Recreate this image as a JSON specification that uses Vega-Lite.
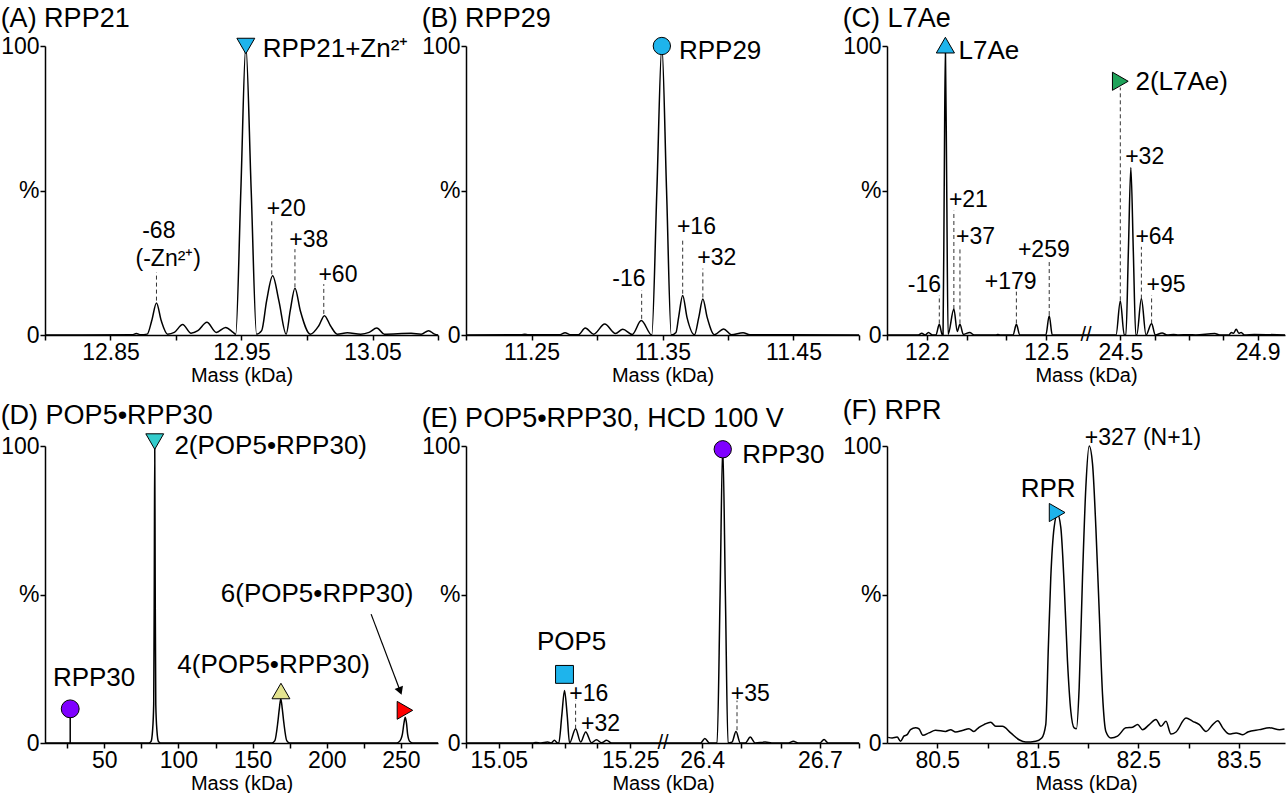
{
  "$schema": "https://vega.github.io/schema/vega-lite/v6.json",
  "padding": {"top": 5, "left": 0, "right": 0, "bottom": 0},
  "columns": 3,
  "spacing": {"row": 111, "column": 28},
  "bounds": "flush",
  "align": "each",
  "config": {
    "font": "Liberation Sans",
    "view": {"stroke": null},
    "axis": {"domainColor": "black", "domainWidth": 1.5, "tickColor": "black", "tickWidth": 1.5, "tickSize": 5, "labelFontSize": 23, "labelColor": "black", "labelPadding": 1, "grid": false, "titleFontSize": 20, "titleFontWeight": "normal", "titleColor": "black", "titlePadding": 1, "labelFont": "Liberation Sans", "titleFont": "Liberation Sans", "labelOverlap": false, "labelBound": false, "labelFlush": false},
    "title": {"anchor": "start", "frame": "bounds", "fontSize": 27, "fontWeight": "normal", "font": "Liberation Sans", "color": "black", "offset": 2},
    "text": {"font": "Liberation Sans", "color": "black"}
  },
  "datasets": {
    "A_trace": [
      {"mass": 12.8, "intensity": 0}, {"mass": 12.8667, "intensity": 0.1}, {"mass": 12.8697, "intensity": 0.5}, {"mass": 12.873, "intensity": 0.1}, {"mass": 12.878, "intensity": 0.3}, {"mass": 12.8815, "intensity": 5.0}, {"mass": 12.8851, "intensity": 11.1}, {"mass": 12.8887, "intensity": 5.0}, {"mass": 12.8936, "intensity": 0.3}, {"mass": 12.8987, "intensity": 0.9}, {"mass": 12.9051, "intensity": 3.6}, {"mass": 12.9115, "intensity": 0.6}, {"mass": 12.9167, "intensity": 1.5}, {"mass": 12.9236, "intensity": 4.4}, {"mass": 12.9308, "intensity": 0.9}, {"mass": 12.9379, "intensity": 2.6}, {"mass": 12.9436, "intensity": 0.9}, {"mass": 12.9456, "intensity": 0.3}, {"mass": 12.9495, "intensity": 50}, {"mass": 12.9533, "intensity": 100}, {"mass": 12.9574, "intensity": 50}, {"mass": 12.9615, "intensity": 0.3}, {"mass": 12.9654, "intensity": 1.5}, {"mass": 12.9692, "intensity": 11.9}, {"mass": 12.9738, "intensity": 20.5}, {"mass": 12.9785, "intensity": 11.9}, {"mass": 12.9841, "intensity": 0.3}, {"mass": 12.9872, "intensity": 8.4}, {"mass": 12.9908, "intensity": 16.2}, {"mass": 12.9949, "intensity": 8.4}, {"mass": 13.0026, "intensity": 0.3}, {"mass": 13.009, "intensity": 3.2}, {"mass": 13.0133, "intensity": 6.7}, {"mass": 13.0179, "intensity": 3.2}, {"mass": 13.0231, "intensity": 0.3}, {"mass": 13.0308, "intensity": 0.8}, {"mass": 13.041, "intensity": 0.3}, {"mass": 13.0474, "intensity": 0.9}, {"mass": 13.0533, "intensity": 2.4}, {"mass": 13.059, "intensity": 0.3}, {"mass": 13.0795, "intensity": 0.6}, {"mass": 13.0872, "intensity": 0.3}, {"mass": 13.0928, "intensity": 1.5}, {"mass": 13.0974, "intensity": 0.3}, {"mass": 13.1, "intensity": 0}
    ],
    "A_dash": [
      {"mass": 12.8851, "intensity": 11.9, "top": 21.7}, {"mass": 12.9731, "intensity": 21, "top": 40}, {"mass": 12.9908, "intensity": 16.5, "top": 29.7}, {"mass": 13.0128, "intensity": 7.3, "top": 17.6}
    ],
    "A_delta": [
      {"label": "-68", "mass": 12.8869, "intensity": 36.0}, {"label": "(-Zn²⁺)", "mass": 12.8941, "intensity": 26.3}, {"label": "+20", "mass": 12.9841, "intensity": 43.5}, {"label": "+38", "mass": 13.0013, "intensity": 32.8}, {"label": "+60", "mass": 13.0236, "intensity": 20.7}
    ],
    "A_name": [{"label": "RPP21+Zn²⁺", "mass": 13.0218, "intensity": 98.8}],
    "A_marker": [{"species": "RPP21+Zn²⁺", "mass": 12.9533, "intensity": 100}],
    "B_trace": [
      {"mass": 11.2, "intensity": 0}, {"mass": 11.2423, "intensity": 0.1}, {"mass": 11.2449, "intensity": 0.3}, {"mass": 11.2474, "intensity": 0.1}, {"mass": 11.2718, "intensity": 0.1}, {"mass": 11.2756, "intensity": 0.8}, {"mass": 11.2795, "intensity": 0.1}, {"mass": 11.2859, "intensity": 0.1}, {"mass": 11.291, "intensity": 2.4}, {"mass": 11.2974, "intensity": 0.3}, {"mass": 11.3059, "intensity": 3.8}, {"mass": 11.3141, "intensity": 0.5}, {"mass": 11.3197, "intensity": 2.0}, {"mass": 11.3269, "intensity": 0.2}, {"mass": 11.3338, "intensity": 5.0}, {"mass": 11.3418, "intensity": 0}, {"mass": 11.3457, "intensity": 50}, {"mass": 11.3495, "intensity": 100}, {"mass": 11.3531, "intensity": 50}, {"mass": 11.3567, "intensity": 0}, {"mass": 11.3603, "intensity": 0.9}, {"mass": 11.3623, "intensity": 6.1}, {"mass": 11.3654, "intensity": 13.7}, {"mass": 11.3687, "intensity": 6.1}, {"mass": 11.3744, "intensity": 0.1}, {"mass": 11.3777, "intensity": 6.1}, {"mass": 11.3808, "intensity": 12.5}, {"mass": 11.3841, "intensity": 6.1}, {"mass": 11.3897, "intensity": 0.1}, {"mass": 11.3967, "intensity": 2.1}, {"mass": 11.4026, "intensity": 0.1}, {"mass": 11.4115, "intensity": 0.8}, {"mass": 11.4167, "intensity": 0.1}, {"mass": 11.5, "intensity": 0}
    ],
    "B_dash": [
      {"mass": 11.3341, "intensity": 5.6, "top": 15.4}, {"mass": 11.3654, "intensity": 14.3, "top": 33.4}, {"mass": 11.3808, "intensity": 13, "top": 23}
    ],
    "B_delta": [
      {"label": "-16", "mass": 11.3244, "intensity": 19.5}, {"label": "+16", "mass": 11.3759, "intensity": 37.4}, {"label": "+32", "mass": 11.3915, "intensity": 26.8}
    ],
    "B_name": [{"label": "RPP29", "mass": 11.394, "intensity": 98.3}],
    "B_marker": [{"species": "RPP29", "mass": 11.3495, "intensity": 100}],
    "C_trace": [
      {"mass": 12.1, "intensity": 0}, {"mass": 12.1788, "intensity": 0}, {"mass": 12.1873, "intensity": 0.6}, {"mass": 12.1958, "intensity": 0}, {"mass": 12.2042, "intensity": 0.9}, {"mass": 12.2144, "intensity": 0}, {"mass": 12.2229, "intensity": 0}, {"mass": 12.2314, "intensity": 3.7}, {"mass": 12.239, "intensity": 0}, {"mass": 12.2408, "intensity": 0}, {"mass": 12.2437, "intensity": 50}, {"mass": 12.2467, "intensity": 100}, {"mass": 12.2501, "intensity": 50}, {"mass": 12.2535, "intensity": 0.2}, {"mass": 12.268, "intensity": 9.0}, {"mass": 12.2765, "intensity": 1.2}, {"mass": 12.2833, "intensity": 3.7}, {"mass": 12.2918, "intensity": 0.2}, {"mass": 12.3079, "intensity": 0.9}, {"mass": 12.319, "intensity": 0}, {"mass": 12.3742, "intensity": 0}, {"mass": 12.3784, "intensity": 0.2}, {"mass": 12.3844, "intensity": 0}, {"mass": 12.4167, "intensity": 0}, {"mass": 12.4251, "intensity": 3.7}, {"mass": 12.4336, "intensity": 0}, {"mass": 12.4991, "intensity": 0}, {"mass": 12.5076, "intensity": 6.7}, {"mass": 12.5152, "intensity": 0}, {"mass": 12.6, "intensity": 0},
      {"mass": 24.4, "intensity": 0}, {"mass": 24.4875, "intensity": 0}, {"mass": 24.5, "intensity": 11.8}, {"mass": 24.5115, "intensity": 0}, {"mass": 24.5163, "intensity": 0}, {"mass": 24.5235, "intensity": 29}, {"mass": 24.5307, "intensity": 58}, {"mass": 24.5379, "intensity": 29}, {"mass": 24.5451, "intensity": 0}, {"mass": 24.548, "intensity": 0}, {"mass": 24.5614, "intensity": 12.6}, {"mass": 24.5749, "intensity": 0}, {"mass": 24.5912, "intensity": 4.0}, {"mass": 24.6017, "intensity": 0}, {"mass": 24.6219, "intensity": 0.7}, {"mass": 24.6363, "intensity": 0}, {"mass": 24.6555, "intensity": 0.2}, {"mass": 24.67, "intensity": 0}, {"mass": 24.6987, "intensity": 0.1}, {"mass": 24.72, "intensity": 0}, {"mass": 24.7754, "intensity": 0.5}, {"mass": 24.7898, "intensity": 0}, {"mass": 24.8167, "intensity": 0}, {"mass": 24.8234, "intensity": 0.9}, {"mass": 24.8301, "intensity": 0.6}, {"mass": 24.8378, "intensity": 2.0}, {"mass": 24.8455, "intensity": 0.6}, {"mass": 24.8522, "intensity": 0.9}, {"mass": 24.8618, "intensity": 0}, {"mass": 24.8906, "intensity": 0.2}, {"mass": 24.98, "intensity": 0}
    ],
    "C_dash": [
      {"mass": 12.2314, "intensity": 4, "top": 13.8}, {"mass": 12.268, "intensity": 9, "top": 43}, {"mass": 12.2833, "intensity": 4, "top": 30.5}, {"mass": 12.4251, "intensity": 4, "top": 15}, {"mass": 12.5076, "intensity": 6.9, "top": 25.9}, {"mass": 24.5, "intensity": 12, "top": 85.6}, {"mass": 24.5614, "intensity": 12.6, "top": 30.5}, {"mass": 24.5912, "intensity": 4, "top": 13.8}
    ],
    "C_delta": [
      {"label": "-16", "mass": 12.194, "intensity": 17.2}, {"label": "+21", "mass": 12.3045, "intensity": 46.6}, {"label": "+37", "mass": 12.3223, "intensity": 33.9}, {"label": "+179", "mass": 12.4107, "intensity": 18.4}, {"label": "+259", "mass": 12.494, "intensity": 29.3}, {"label": "+32", "mass": 24.571, "intensity": 61.5}, {"label": "+64", "mass": 24.6008, "intensity": 33.9}, {"label": "+95", "mass": 24.6334, "intensity": 17.2}
    ],
    "C_name": [{"label": "L7Ae", "mass": 12.356, "intensity": 98.3}, {"label": "2(L7Ae)", "mass": 24.679, "intensity": 87.4}],
    "C_marker": [{"species": "L7Ae", "mass": 12.2467, "intensity": 100.3}, {"species": "2(L7Ae)", "mass": 24.5, "intensity": 87.8}],
    "C_break": [{"label": "//", "mass": 12.6, "intensity": 0}],
    "D_trace": [
      {"mass": 10, "intensity": 0}, {"mass": 80, "intensity": 0}, {"mass": 81.5, "intensity": 0.5}, {"mass": 82.5, "intensity": 4}, {"mass": 83.3, "intensity": 13}, {"mass": 83.7, "intensity": 55}, {"mass": 84, "intensity": 100}, {"mass": 84.3, "intensity": 55}, {"mass": 84.7, "intensity": 13}, {"mass": 85.5, "intensity": 4}, {"mass": 86.5, "intensity": 0.5}, {"mass": 88, "intensity": 0}, {"mass": 163, "intensity": 0}, {"mass": 165, "intensity": 0.8}, {"mass": 167, "intensity": 7}, {"mass": 168, "intensity": 11.5}, {"mass": 169, "intensity": 14.9}, {"mass": 170, "intensity": 11.5}, {"mass": 171, "intensity": 7}, {"mass": 173, "intensity": 0.8}, {"mass": 175, "intensity": 0}, {"mass": 247, "intensity": 0}, {"mass": 249, "intensity": 0.5}, {"mass": 251, "intensity": 3}, {"mass": 252, "intensity": 6.5}, {"mass": 252.9, "intensity": 8.7}, {"mass": 253.8, "intensity": 6.5}, {"mass": 254.5, "intensity": 3}, {"mass": 256, "intensity": 0.5}, {"mass": 258, "intensity": 0}, {"mass": 275, "intensity": 0}
    ],
    "D_stick": [{"mass": 27, "intensity": 0, "top": 11.5}],
    "D_arrow": [{"mass": 229.9, "intensity": 43.4, "mass2": 249.5, "top": 17.5}],
    "D_head": [{"mass": 249.5, "intensity": 17.5}],
    "D_name": [
      {"label": "2(POP5•RPP30)", "mass": 162.2, "intensity": 100}, {"label": "RPP30", "mass": 43.1, "intensity": 21.8}, {"label": "4(POP5•RPP30)", "mass": 164.2, "intensity": 26.1}, {"label": "6(POP5•RPP30)", "mass": 193.5, "intensity": 50.2}
    ],
    "D_marker": [
      {"species": "2(POP5•RPP30)", "mass": 84, "intensity": 101.5}, {"species": "RPP30", "mass": 27, "intensity": 11.5}, {"species": "4(POP5•RPP30)", "mass": 169.1, "intensity": 17.5}, {"species": "6(POP5•RPP30)", "mass": 252.7, "intensity": 11.0}
    ],
    "E_trace": [
      {"mass": 15.0, "intensity": 0}, {"mass": 15.1013, "intensity": 0}, {"mass": 15.1064, "intensity": 0.2}, {"mass": 15.1141, "intensity": 0}, {"mass": 15.1244, "intensity": 0.3}, {"mass": 15.1295, "intensity": 0}, {"mass": 15.1346, "intensity": 0.9}, {"mass": 15.1397, "intensity": 0}, {"mass": 15.1413, "intensity": 0}, {"mass": 15.1459, "intensity": 9.3}, {"mass": 15.15, "intensity": 17.7}, {"mass": 15.1541, "intensity": 9.3}, {"mass": 15.1577, "intensity": 0}, {"mass": 15.1669, "intensity": 4.8}, {"mass": 15.1746, "intensity": 0.3}, {"mass": 15.1823, "intensity": 3.7}, {"mass": 15.191, "intensity": 0.1}, {"mass": 15.1987, "intensity": 1.1}, {"mass": 15.2064, "intensity": 0.1}, {"mass": 15.2141, "intensity": 0.9}, {"mass": 15.2218, "intensity": 0}, {"mass": 15.3, "intensity": 0},
      {"mass": 26.3, "intensity": 0}, {"mass": 26.3958, "intensity": 0}, {"mass": 26.4068, "intensity": 1.5}, {"mass": 26.4186, "intensity": 0}, {"mass": 26.438, "intensity": 0}, {"mass": 26.4456, "intensity": 49.6}, {"mass": 26.4524, "intensity": 100}, {"mass": 26.4592, "intensity": 49.6}, {"mass": 26.4659, "intensity": 0}, {"mass": 26.4761, "intensity": 0.3}, {"mass": 26.4862, "intensity": 3.9}, {"mass": 26.4972, "intensity": 0}, {"mass": 26.5099, "intensity": 0}, {"mass": 26.5226, "intensity": 2.0}, {"mass": 26.5353, "intensity": 0}, {"mass": 26.5606, "intensity": 0.3}, {"mass": 26.5775, "intensity": 0}, {"mass": 26.62, "intensity": 0}, {"mass": 26.6325, "intensity": 0.6}, {"mass": 26.645, "intensity": 0}, {"mass": 26.7, "intensity": 0}, {"mass": 26.7108, "intensity": 1.2}, {"mass": 26.7212, "intensity": 0}, {"mass": 26.8, "intensity": 0}
    ],
    "E_dash": [{"mass": 15.1669, "intensity": 4.8, "top": 14.3}, {"mass": 26.4888, "intensity": 4.3, "top": 14.3}],
    "E_delta": [{"label": "+16", "mass": 15.1869, "intensity": 16.6}, {"label": "+32", "mass": 15.2049, "intensity": 6.5}, {"label": "+35", "mass": 26.5226, "intensity": 16.6}],
    "E_name": [{"label": "POP5", "mass": 15.1608, "intensity": 33.9}, {"label": "RPP30", "mass": 26.607, "intensity": 97.1}],
    "E_marker": [{"species": "POP5", "mass": 15.15, "intensity": 23.1}, {"species": "RPP30", "mass": 26.4524, "intensity": 98.9}],
    "E_break": [{"label": "//", "mass": 15.3, "intensity": 0}],
    "F_trace": [
      {"mass": 80.0116, "intensity": 1.9}, {"mass": 80.0515, "intensity": 1.7}, {"mass": 80.1013, "intensity": 2.0}, {"mass": 80.1346, "intensity": 0.6}, {"mass": 80.1678, "intensity": 2.3}, {"mass": 80.201, "intensity": 2.8}, {"mass": 80.2342, "intensity": 4.5}, {"mass": 80.2841, "intensity": 5.1}, {"mass": 80.3173, "intensity": 4.8}, {"mass": 80.3571, "intensity": 2.6}, {"mass": 80.4169, "intensity": 3.4}, {"mass": 80.4834, "intensity": 4.3}, {"mass": 80.5831, "intensity": 3.9}, {"mass": 80.6329, "intensity": 4.5}, {"mass": 80.6827, "intensity": 3.7}, {"mass": 80.7492, "intensity": 4.2}, {"mass": 80.8156, "intensity": 4.8}, {"mass": 80.8654, "intensity": 3.9}, {"mass": 80.9153, "intensity": 5.3}, {"mass": 80.9651, "intensity": 6.2}, {"mass": 81.0316, "intensity": 7.0}, {"mass": 81.0814, "intensity": 5.6}, {"mass": 81.1478, "intensity": 5.6}, {"mass": 81.2309, "intensity": 3.4}, {"mass": 81.314, "intensity": 1.1}, {"mass": 81.3804, "intensity": 0.3}, {"mass": 81.4801, "intensity": 0.6}, {"mass": 81.5399, "intensity": 1.7}, {"mass": 81.5797, "intensity": 6.2}, {"mass": 81.6063, "intensity": 33.2}, {"mass": 81.6296, "intensity": 55.7}, {"mass": 81.6628, "intensity": 72.6}, {"mass": 81.696, "intensity": 77.1}, {"mass": 81.7292, "intensity": 72.6}, {"mass": 81.7625, "intensity": 53.5}, {"mass": 81.7957, "intensity": 27.6}, {"mass": 81.8289, "intensity": 10.7}, {"mass": 81.8621, "intensity": 5.1}, {"mass": 81.8854, "intensity": 4.8}, {"mass": 81.912, "intensity": 18.6}, {"mass": 81.9452, "intensity": 55.7}, {"mass": 81.9784, "intensity": 86.1}, {"mass": 82.0116, "intensity": 100}, {"mass": 82.0449, "intensity": 94.0}, {"mass": 82.0781, "intensity": 72.6}, {"mass": 82.1113, "intensity": 44.5}, {"mass": 82.1445, "intensity": 16.3}, {"mass": 82.1777, "intensity": 3.9}, {"mass": 82.2276, "intensity": 1.7}, {"mass": 82.294, "intensity": 2.3}, {"mass": 82.3771, "intensity": 5.1}, {"mass": 82.4435, "intensity": 5.3}, {"mass": 82.4934, "intensity": 6.2}, {"mass": 82.5432, "intensity": 4.5}, {"mass": 82.6096, "intensity": 6.2}, {"mass": 82.6761, "intensity": 7.9}, {"mass": 82.7259, "intensity": 5.6}, {"mass": 82.7757, "intensity": 7.3}, {"mass": 82.8256, "intensity": 3.0}, {"mass": 82.8754, "intensity": 3.7}, {"mass": 82.9751, "intensity": 8.4}, {"mass": 83.0415, "intensity": 7.3}, {"mass": 83.108, "intensity": 6.2}, {"mass": 83.1744, "intensity": 3.9}, {"mass": 83.2409, "intensity": 6.2}, {"mass": 83.2907, "intensity": 7.5}, {"mass": 83.3405, "intensity": 5.1}, {"mass": 83.407, "intensity": 3.0}, {"mass": 83.4734, "intensity": 3.4}, {"mass": 83.5399, "intensity": 2.8}, {"mass": 83.5897, "intensity": 3.7}, {"mass": 83.706, "intensity": 4.5}, {"mass": 83.8056, "intensity": 5.1}, {"mass": 83.9053, "intensity": 4.5}, {"mass": 83.9551, "intensity": 4.7}
    ],
    "F_name": [{"label": "RPR", "mass": 81.603, "intensity": 85.6}],
    "F_delta": [{"label": "+327 (N+1)", "mass": 82.546, "intensity": 102.7}],
    "F_marker": [{"species": "RPR", "mass": 81.693, "intensity": 77.6}]
  },
  "concat": [
    {
      "title": "(A) RPP21",
      "width": 393, "height": 289,
      "encoding": {
        "x": {"field": "mass", "type": "quantitative", "title": "Mass (kDa)", "scale": {"domain": [12.8, 13.1], "zero": false, "nice": false},
              "axis": {"values": [12.8, 12.85, 12.9, 12.95, 13.0, 13.05, 13.1], "labelExpr": "indexof(['12.85','12.95','13.05'], format(datum.value, '.2f')) >= 0 ? format(datum.value, '.2f') : ''"}},
        "y": {"field": "intensity", "type": "quantitative", "title": null, "scale": {"domain": [0, 100], "nice": false},
              "axis": {"values": [0, 50, 100], "labelExpr": "datum.value == 50 ? '%' : datum.label"}}
      },
      "layer": [
        {"data": {"name": "A_trace"}, "mark": {"type": "line", "interpolate": "monotone", "color": "black", "strokeWidth": 1.5}, "encoding": {}},
        {"data": {"name": "A_dash"}, "mark": {"type": "rule", "color": "#333333", "strokeWidth": 1, "strokeDash": [4, 3]}, "encoding": {"y2": {"field": "top"}}},
        {"data": {"name": "A_delta"}, "mark": {"type": "text", "fontSize": 23, "align": "center", "baseline": "middle"}, "encoding": {"text": {"field": "label", "type": "nominal"}}},
        {"data": {"name": "A_name"}, "mark": {"type": "text", "fontSize": 26, "align": "center", "baseline": "middle"}, "encoding": {"text": {"field": "label", "type": "nominal"}}},
        {"data": {"name": "A_marker"}, "mark": {"type": "point", "filled": true, "opacity": 1, "stroke": "black", "strokeWidth": 1, "size": 320},
         "encoding": {"shape": {"field": "species", "type": "nominal", "scale": {"domain": ["RPP21+Zn²⁺", "RPP29", "L7Ae", "2(L7Ae)", "2(POP5•RPP30)", "RPP30", "4(POP5•RPP30)", "6(POP5•RPP30)", "POP5", "RPR"], "range": ["triangle-down", "circle", "triangle-up", "triangle-right", "triangle-down", "circle", "triangle-up", "triangle-right", "square", "triangle-right"]}, "legend": null},
                      "fill": {"field": "species", "type": "nominal", "scale": {"domain": ["RPP21+Zn²⁺", "RPP29", "L7Ae", "2(L7Ae)", "2(POP5•RPP30)", "RPP30", "4(POP5•RPP30)", "6(POP5•RPP30)", "POP5", "RPR"], "range": ["#1EB4EC", "#1EB4EC", "#1EB4EC", "#1FA35A", "#33CCCC", "#7F00FF", "#E3E38F", "#FF0000", "#1EB4EC", "#1EB4EC"]}, "legend": null}}}
      ]
    },
    {
      "title": "(B) RPP29",
      "width": 393, "height": 289,
      "encoding": {
        "x": {"field": "mass", "type": "quantitative", "title": "Mass (kDa)", "scale": {"domain": [11.2, 11.5], "zero": false, "nice": false},
              "axis": {"values": [11.2, 11.25, 11.3, 11.35, 11.4, 11.45, 11.5], "labelExpr": "indexof(['11.25','11.35','11.45'], format(datum.value, '.2f')) >= 0 ? format(datum.value, '.2f') : ''"}},
        "y": {"field": "intensity", "type": "quantitative", "title": null, "scale": {"domain": [0, 100], "nice": false},
              "axis": {"values": [0, 50, 100], "labelExpr": "datum.value == 50 ? '%' : datum.label"}}
      },
      "layer": [
        {"data": {"name": "B_trace"}, "mark": {"type": "line", "interpolate": "monotone", "color": "black", "strokeWidth": 1.5}, "encoding": {}},
        {"data": {"name": "B_dash"}, "mark": {"type": "rule", "color": "#333333", "strokeWidth": 1, "strokeDash": [4, 3]}, "encoding": {"y2": {"field": "top"}}},
        {"data": {"name": "B_delta"}, "mark": {"type": "text", "fontSize": 23, "align": "center", "baseline": "middle"}, "encoding": {"text": {"field": "label", "type": "nominal"}}},
        {"data": {"name": "B_name"}, "mark": {"type": "text", "fontSize": 26, "align": "center", "baseline": "middle"}, "encoding": {"text": {"field": "label", "type": "nominal"}}},
        {"data": {"name": "B_marker"}, "mark": {"type": "point", "filled": true, "opacity": 1, "stroke": "black", "strokeWidth": 1, "size": 300},
         "encoding": {"shape": {"field": "species", "type": "nominal", "scale": {"domain": ["RPP21+Zn²⁺", "RPP29", "L7Ae", "2(L7Ae)", "2(POP5•RPP30)", "RPP30", "4(POP5•RPP30)", "6(POP5•RPP30)", "POP5", "RPR"], "range": ["triangle-down", "circle", "triangle-up", "triangle-right", "triangle-down", "circle", "triangle-up", "triangle-right", "square", "triangle-right"]}, "legend": null},
                      "fill": {"field": "species", "type": "nominal", "scale": {"domain": ["RPP21+Zn²⁺", "RPP29", "L7Ae", "2(L7Ae)", "2(POP5•RPP30)", "RPP30", "4(POP5•RPP30)", "6(POP5•RPP30)", "POP5", "RPR"], "range": ["#1EB4EC", "#1EB4EC", "#1EB4EC", "#1FA35A", "#33CCCC", "#7F00FF", "#E3E38F", "#FF0000", "#1EB4EC", "#1EB4EC"]}, "legend": null}}}
      ]
    },
    {
      "title": "(C) L7Ae",
      "bounds": "flush",
      "spacing": 0,
      "hconcat": [
        {
          "width": 199, "height": 289,
          "encoding": {
            "x": {"field": "mass", "type": "quantitative", "title": null, "scale": {"domain": [12.1, 12.6], "zero": false, "nice": false},
                  "axis": {"values": [12.1, 12.2, 12.3, 12.4, 12.5], "labelExpr": "indexof(['12.2','12.5'], format(datum.value, '.1f')) >= 0 ? format(datum.value, '.1f') : ''"}},
            "y": {"field": "intensity", "type": "quantitative", "title": null, "scale": {"domain": [0, 100], "nice": false},
                  "axis": {"values": [0, 50, 100], "labelExpr": "datum.value == 50 ? '%' : datum.label"}}
          },
          "layer": [
            {"data": {"name": "C_trace"}, "transform": [{"filter": "datum.mass < 20"}], "mark": {"type": "line", "interpolate": "monotone", "color": "black", "strokeWidth": 1.5}, "encoding": {}},
            {"data": {"name": "C_dash"}, "transform": [{"filter": "datum.mass < 20"}], "mark": {"type": "rule", "color": "#333333", "strokeWidth": 1, "strokeDash": [4, 3]}, "encoding": {"y2": {"field": "top"}}},
            {"data": {"name": "C_delta"}, "transform": [{"filter": "datum.mass < 20"}], "mark": {"type": "text", "fontSize": 23, "align": "center", "baseline": "middle"}, "encoding": {"text": {"field": "label", "type": "nominal"}}},
            {"data": {"name": "C_name"}, "transform": [{"filter": "datum.mass < 20"}], "mark": {"type": "text", "fontSize": 26, "align": "center", "baseline": "middle"}, "encoding": {"text": {"field": "label", "type": "nominal"}}},
            {"data": {"name": "C_break"}, "mark": {"type": "text", "fontSize": 20, "align": "center", "baseline": "middle"}, "encoding": {"text": {"field": "label", "type": "nominal"}}},
            {"data": {"name": "C_marker"}, "transform": [{"filter": "datum.mass < 20"}], "mark": {"type": "point", "filled": true, "opacity": 1, "stroke": "black", "strokeWidth": 1, "size": 330},
             "encoding": {"shape": {"field": "species", "type": "nominal", "scale": {"domain": ["RPP21+Zn²⁺", "RPP29", "L7Ae", "2(L7Ae)", "2(POP5•RPP30)", "RPP30", "4(POP5•RPP30)", "6(POP5•RPP30)", "POP5", "RPR"], "range": ["triangle-down", "circle", "triangle-up", "triangle-right", "triangle-down", "circle", "triangle-up", "triangle-right", "square", "triangle-right"]}, "legend": null},
                          "fill": {"field": "species", "type": "nominal", "scale": {"domain": ["RPP21+Zn²⁺", "RPP29", "L7Ae", "2(L7Ae)", "2(POP5•RPP30)", "RPP30", "4(POP5•RPP30)", "6(POP5•RPP30)", "POP5", "RPR"], "range": ["#1EB4EC", "#1EB4EC", "#1EB4EC", "#1FA35A", "#33CCCC", "#7F00FF", "#E3E38F", "#FF0000", "#1EB4EC", "#1EB4EC"]}, "legend": null}}}
          ]
        },
        {
          "width": 199, "height": 289,
          "encoding": {
            "x": {"field": "mass", "type": "quantitative", "title": "Mass (kDa)", "scale": {"domain": [24.4, 24.98], "zero": false, "nice": false},
                  "axis": {"values": [24.5, 24.6, 24.7, 24.8, 24.9], "titleX": 0, "titleAlign": "center", "labelExpr": "indexof(['24.5','24.9'], format(datum.value, '.1f')) >= 0 ? format(datum.value, '.1f') : ''"}},
            "y": {"field": "intensity", "type": "quantitative", "title": null, "scale": {"domain": [0, 100], "nice": false}, "axis": null}
          },
          "layer": [
            {"data": {"name": "C_trace"}, "transform": [{"filter": "datum.mass > 20"}], "mark": {"type": "line", "interpolate": "monotone", "color": "black", "strokeWidth": 1.5}, "encoding": {}},
            {"data": {"name": "C_dash"}, "transform": [{"filter": "datum.mass > 20"}], "mark": {"type": "rule", "color": "#333333", "strokeWidth": 1, "strokeDash": [4, 3]}, "encoding": {"y2": {"field": "top"}}},
            {"data": {"name": "C_delta"}, "transform": [{"filter": "datum.mass > 20"}], "mark": {"type": "text", "fontSize": 23, "align": "center", "baseline": "middle"}, "encoding": {"text": {"field": "label", "type": "nominal"}}},
            {"data": {"name": "C_name"}, "transform": [{"filter": "datum.mass > 20"}], "mark": {"type": "text", "fontSize": 26, "align": "center", "baseline": "middle"}, "encoding": {"text": {"field": "label", "type": "nominal"}}},
            {"data": {"name": "C_marker"}, "transform": [{"filter": "datum.mass > 20"}], "mark": {"type": "point", "filled": true, "opacity": 1, "stroke": "black", "strokeWidth": 1, "size": 330},
             "encoding": {"shape": {"field": "species", "type": "nominal", "scale": {"domain": ["RPP21+Zn²⁺", "RPP29", "L7Ae", "2(L7Ae)", "2(POP5•RPP30)", "RPP30", "4(POP5•RPP30)", "6(POP5•RPP30)", "POP5", "RPR"], "range": ["triangle-down", "circle", "triangle-up", "triangle-right", "triangle-down", "circle", "triangle-up", "triangle-right", "square", "triangle-right"]}, "legend": null},
                          "fill": {"field": "species", "type": "nominal", "scale": {"domain": ["RPP21+Zn²⁺", "RPP29", "L7Ae", "2(L7Ae)", "2(POP5•RPP30)", "RPP30", "4(POP5•RPP30)", "6(POP5•RPP30)", "POP5", "RPR"], "range": ["#1EB4EC", "#1EB4EC", "#1EB4EC", "#1FA35A", "#33CCCC", "#7F00FF", "#E3E38F", "#FF0000", "#1EB4EC", "#1EB4EC"]}, "legend": null}}}
          ]
        }
      ]
    },
    {
      "title": "(D) POP5•RPP30",
      "width": 393, "height": 297,
      "encoding": {
        "x": {"field": "mass", "type": "quantitative", "title": "Mass (kDa)", "scale": {"domain": [10, 275], "zero": false, "nice": false},
              "axis": {"values": [25, 50, 75, 100, 125, 150, 175, 200, 225, 250], "labelExpr": "datum.value % 50 == 0 ? format(datum.value, 'd') : ''"}},
        "y": {"field": "intensity", "type": "quantitative", "title": null, "scale": {"domain": [0, 100], "nice": false},
              "axis": {"values": [0, 50, 100], "labelExpr": "datum.value == 50 ? '%' : datum.label"}}
      },
      "layer": [
        {"data": {"name": "D_trace"}, "mark": {"type": "line", "interpolate": "monotone", "color": "black", "strokeWidth": 1.5}, "encoding": {}},
        {"data": {"name": "D_stick"}, "mark": {"type": "rule", "color": "black", "strokeWidth": 1.5}, "encoding": {"y2": {"field": "top"}}},
        {"data": {"name": "D_arrow"}, "mark": {"type": "rule", "color": "black", "strokeWidth": 1.2}, "encoding": {"x2": {"field": "mass2"}, "y2": {"field": "top"}}},
        {"data": {"name": "D_head"}, "mark": {"type": "point", "shape": "triangle-down", "filled": true, "opacity": 1, "color": "black", "size": 80, "angle": 339}, "encoding": {}},
        {"data": {"name": "D_name"}, "mark": {"type": "text", "fontSize": 26, "align": "center", "baseline": "middle"}, "encoding": {"text": {"field": "label", "type": "nominal"}}},
        {"data": {"name": "D_marker"}, "mark": {"type": "point", "filled": true, "opacity": 1, "stroke": "black", "strokeWidth": 1, "size": 320},
         "encoding": {"shape": {"field": "species", "type": "nominal", "scale": {"domain": ["RPP21+Zn²⁺", "RPP29", "L7Ae", "2(L7Ae)", "2(POP5•RPP30)", "RPP30", "4(POP5•RPP30)", "6(POP5•RPP30)", "POP5", "RPR"], "range": ["triangle-down", "circle", "triangle-up", "triangle-right", "triangle-down", "circle", "triangle-up", "triangle-right", "square", "triangle-right"]}, "legend": null},
                      "fill": {"field": "species", "type": "nominal", "scale": {"domain": ["RPP21+Zn²⁺", "RPP29", "L7Ae", "2(L7Ae)", "2(POP5•RPP30)", "RPP30", "4(POP5•RPP30)", "6(POP5•RPP30)", "POP5", "RPR"], "range": ["#1EB4EC", "#1EB4EC", "#1EB4EC", "#1FA35A", "#33CCCC", "#7F00FF", "#E3E38F", "#FF0000", "#1EB4EC", "#1EB4EC"]}, "legend": null}}}
      ]
    },
    {
      "title": "(E) POP5•RPP30, HCD 100 V",
      "bounds": "flush",
      "spacing": 0,
      "hconcat": [
        {
          "width": 197, "height": 297,
          "encoding": {
            "x": {"field": "mass", "type": "quantitative", "title": null, "scale": {"domain": [15.0, 15.3], "zero": false, "nice": false},
                  "axis": {"values": [15.0, 15.05, 15.1, 15.15, 15.2, 15.25], "labelExpr": "indexof(['15.05','15.25'], format(datum.value, '.2f')) >= 0 ? format(datum.value, '.2f') : ''"}},
            "y": {"field": "intensity", "type": "quantitative", "title": null, "scale": {"domain": [0, 100], "nice": false},
                  "axis": {"values": [0, 50, 100], "labelExpr": "datum.value == 50 ? '%' : datum.label"}}
          },
          "layer": [
            {"data": {"name": "E_trace"}, "transform": [{"filter": "datum.mass < 20"}], "mark": {"type": "line", "interpolate": "monotone", "color": "black", "strokeWidth": 1.5}, "encoding": {}},
            {"data": {"name": "E_dash"}, "transform": [{"filter": "datum.mass < 20"}], "mark": {"type": "rule", "color": "#333333", "strokeWidth": 1, "strokeDash": [4, 3]}, "encoding": {"y2": {"field": "top"}}},
            {"data": {"name": "E_delta"}, "transform": [{"filter": "datum.mass < 20"}], "mark": {"type": "text", "fontSize": 23, "align": "center", "baseline": "middle"}, "encoding": {"text": {"field": "label", "type": "nominal"}}},
            {"data": {"name": "E_name"}, "transform": [{"filter": "datum.mass < 20"}], "mark": {"type": "text", "fontSize": 26, "align": "center", "baseline": "middle"}, "encoding": {"text": {"field": "label", "type": "nominal"}}},
            {"data": {"name": "E_break"}, "mark": {"type": "text", "fontSize": 20, "align": "center", "baseline": "middle"}, "encoding": {"text": {"field": "label", "type": "nominal"}}},
            {"data": {"name": "E_marker"}, "transform": [{"filter": "datum.mass < 20"}], "mark": {"type": "point", "filled": true, "opacity": 1, "stroke": "black", "strokeWidth": 1, "size": 320},
             "encoding": {"shape": {"field": "species", "type": "nominal", "scale": {"domain": ["RPP21+Zn²⁺", "RPP29", "L7Ae", "2(L7Ae)", "2(POP5•RPP30)", "RPP30", "4(POP5•RPP30)", "6(POP5•RPP30)", "POP5", "RPR"], "range": ["triangle-down", "circle", "triangle-up", "triangle-right", "triangle-down", "circle", "triangle-up", "triangle-right", "square", "triangle-right"]}, "legend": null},
                          "fill": {"field": "species", "type": "nominal", "scale": {"domain": ["RPP21+Zn²⁺", "RPP29", "L7Ae", "2(L7Ae)", "2(POP5•RPP30)", "RPP30", "4(POP5•RPP30)", "6(POP5•RPP30)", "POP5", "RPR"], "range": ["#1EB4EC", "#1EB4EC", "#1EB4EC", "#1FA35A", "#33CCCC", "#7F00FF", "#E3E38F", "#FF0000", "#1EB4EC", "#1EB4EC"]}, "legend": null}}}
          ]
        },
        {
          "width": 196, "height": 297,
          "encoding": {
            "x": {"field": "mass", "type": "quantitative", "title": "Mass (kDa)", "scale": {"domain": [26.3, 26.8], "zero": false, "nice": false},
                  "axis": {"values": [26.4, 26.5, 26.6, 26.7, 26.8], "titleX": 0, "titleAlign": "center", "labelExpr": "indexof(['26.4','26.7'], format(datum.value, '.1f')) >= 0 ? format(datum.value, '.1f') : ''"}},
            "y": {"field": "intensity", "type": "quantitative", "title": null, "scale": {"domain": [0, 100], "nice": false}, "axis": null}
          },
          "layer": [
            {"data": {"name": "E_trace"}, "transform": [{"filter": "datum.mass > 20"}], "mark": {"type": "line", "interpolate": "monotone", "color": "black", "strokeWidth": 1.5}, "encoding": {}},
            {"data": {"name": "E_dash"}, "transform": [{"filter": "datum.mass > 20"}], "mark": {"type": "rule", "color": "#333333", "strokeWidth": 1, "strokeDash": [4, 3]}, "encoding": {"y2": {"field": "top"}}},
            {"data": {"name": "E_delta"}, "transform": [{"filter": "datum.mass > 20"}], "mark": {"type": "text", "fontSize": 23, "align": "center", "baseline": "middle"}, "encoding": {"text": {"field": "label", "type": "nominal"}}},
            {"data": {"name": "E_name"}, "transform": [{"filter": "datum.mass > 20"}], "mark": {"type": "text", "fontSize": 26, "align": "center", "baseline": "middle"}, "encoding": {"text": {"field": "label", "type": "nominal"}}},
            {"data": {"name": "E_marker"}, "transform": [{"filter": "datum.mass > 20"}], "mark": {"type": "point", "filled": true, "opacity": 1, "stroke": "black", "strokeWidth": 1, "size": 300},
             "encoding": {"shape": {"field": "species", "type": "nominal", "scale": {"domain": ["RPP21+Zn²⁺", "RPP29", "L7Ae", "2(L7Ae)", "2(POP5•RPP30)", "RPP30", "4(POP5•RPP30)", "6(POP5•RPP30)", "POP5", "RPR"], "range": ["triangle-down", "circle", "triangle-up", "triangle-right", "triangle-down", "circle", "triangle-up", "triangle-right", "square", "triangle-right"]}, "legend": null},
                          "fill": {"field": "species", "type": "nominal", "scale": {"domain": ["RPP21+Zn²⁺", "RPP29", "L7Ae", "2(L7Ae)", "2(POP5•RPP30)", "RPP30", "4(POP5•RPP30)", "6(POP5•RPP30)", "POP5", "RPR"], "range": ["#1EB4EC", "#1EB4EC", "#1EB4EC", "#1FA35A", "#33CCCC", "#7F00FF", "#E3E38F", "#FF0000", "#1EB4EC", "#1EB4EC"]}, "legend": null}}}
          ]
        }
      ]
    },
    {
      "title": "(F) RPR",
      "width": 398, "height": 297,
      "encoding": {
        "x": {"field": "mass", "type": "quantitative", "title": "Mass (kDa)", "scale": {"domain": [80.0, 83.96], "zero": false, "nice": false},
              "axis": {"values": [80.5, 81, 81.5, 82, 82.5, 83, 83.5], "labelExpr": "indexof(['80.5','81.5','82.5','83.5'], format(datum.value, '.1f')) >= 0 ? format(datum.value, '.1f') : ''"}},
        "y": {"field": "intensity", "type": "quantitative", "title": null, "scale": {"domain": [0, 100], "nice": false},
              "axis": {"values": [0, 50, 100], "labelExpr": "datum.value == 50 ? '%' : datum.label"}}
      },
      "layer": [
        {"data": {"name": "F_trace"}, "mark": {"type": "line", "interpolate": "monotone", "color": "black", "strokeWidth": 1.5}, "encoding": {}},
        {"data": {"name": "F_delta"}, "mark": {"type": "text", "fontSize": 23, "align": "center", "baseline": "middle"}, "encoding": {"text": {"field": "label", "type": "nominal"}}},
        {"data": {"name": "F_name"}, "mark": {"type": "text", "fontSize": 26, "align": "center", "baseline": "middle"}, "encoding": {"text": {"field": "label", "type": "nominal"}}},
        {"data": {"name": "F_marker"}, "mark": {"type": "point", "filled": true, "opacity": 1, "stroke": "black", "strokeWidth": 1, "size": 330},
         "encoding": {"shape": {"field": "species", "type": "nominal", "scale": {"domain": ["RPP21+Zn²⁺", "RPP29", "L7Ae", "2(L7Ae)", "2(POP5•RPP30)", "RPP30", "4(POP5•RPP30)", "6(POP5•RPP30)", "POP5", "RPR"], "range": ["triangle-down", "circle", "triangle-up", "triangle-right", "triangle-down", "circle", "triangle-up", "triangle-right", "square", "triangle-right"]}, "legend": null},
                      "fill": {"field": "species", "type": "nominal", "scale": {"domain": ["RPP21+Zn²⁺", "RPP29", "L7Ae", "2(L7Ae)", "2(POP5•RPP30)", "RPP30", "4(POP5•RPP30)", "6(POP5•RPP30)", "POP5", "RPR"], "range": ["#1EB4EC", "#1EB4EC", "#1EB4EC", "#1FA35A", "#33CCCC", "#7F00FF", "#E3E38F", "#FF0000", "#1EB4EC", "#1EB4EC"]}, "legend": null}}}
      ]
    }
  ]
}
